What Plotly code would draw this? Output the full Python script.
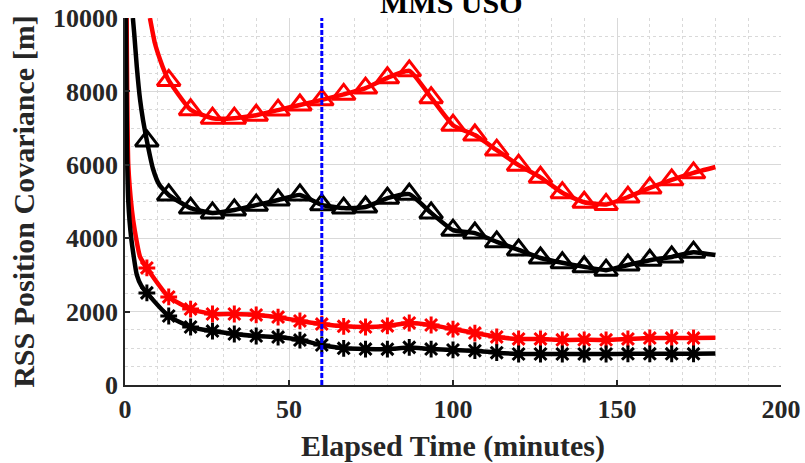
import plotly.graph_objects as go

# ---- data ----
marker_times = [6.67, 13.33, 20, 26.67, 33.33, 40, 46.67, 53.33, 60, 66.67, 73.33, 80, 86.67,
                93.33, 100, 106.67, 113.33, 120, 126.67, 133.33, 140, 146.67, 153.33, 160,
                166.67, 173.33]

red_tri_t = [7.6, 9.1, 10.7, 12.0] + marker_times[1:] + [180]
red_tri_v = [10000, 9320, 8860, 8550,
             8300, 7500, 7270, 7270, 7350, 7490, 7630, 7770, 7920, 8090, 8370, 8560,
             7830, 7080, 6810, 6400, 5990, 5660, 5240, 4980, 4920, 5120, 5370, 5590, 5780,
             5940]

black_tri_t = [2.4, 2.8, 3.6, 4.6, 5.5, 6.67, 8.5, 10.5] + marker_times[1:] + [180]
black_tri_v = [10000, 9590, 8670, 7770, 7220, 6650, 5900, 5450,
               5180, 4820, 4690, 4770, 4900, 5040, 5180, 4910, 4820, 4850, 5090, 5200,
               4690, 4220, 4140, 3900, 3680, 3460, 3330, 3220, 3130, 3270, 3400, 3490, 3620,
               3540]

red_star_t = [0.5, 1.0, 2.1, 3.0, 4.6] + marker_times + [180]
red_star_v = [10000, 6000, 4770, 4200, 3490,
              3190, 2400, 2070, 1935, 1935, 1910, 1850, 1745, 1660, 1600, 1580, 1610, 1690,
              1635, 1525, 1415, 1310, 1255, 1255, 1230, 1230, 1230, 1255, 1280, 1280, 1280,
              1290]

black_star_t = [0.3, 0.6, 1.0, 1.9, 3.6, 5.0] + marker_times + [180]
black_star_v = [10000, 6500, 5000, 4000, 3000, 2700,
                2510, 1880, 1580, 1470, 1390, 1335, 1305, 1225, 1090, 1000, 980, 975, 1025,
                980, 955, 935, 880, 845, 845, 845, 845, 845, 850, 850, 850, 850,
                855]

event_time = 60
x_ticks = [0, 50, 100, 150, 200]
x_tick_text = ["0", "50", "100", "150", "200"]
y_ticks = [0, 2000, 4000, 6000, 8000, 10000]
y_tick_text = ["0", "2000", "4000", "6000", "8000", "10000"]

FONT = "Liberation Serif"
fig = go.Figure()


def add_series(ts, vs, color, symbol, size):
    fig.add_trace(go.Scatter(x=ts, y=vs, mode="lines",
                             line=dict(color=color, width=4.5, shape="spline", smoothing=0.5),
                             hoverinfo="skip"))
    mt = [t for t in ts if t in marker_times]
    mv = [v for t, v in zip(ts, vs) if t in marker_times]
    fig.add_trace(go.Scatter(x=mt, y=mv, mode="markers",
                             marker=dict(symbol=symbol, size=size, color=color,
                                         line=dict(color=color, width=3))))


add_series(red_tri_t, red_tri_v, "#ff0000", "triangle-up-open", 20)
add_series(black_tri_t, black_tri_v, "#000000", "triangle-up-open", 20)
add_series(red_star_t, red_star_v, "#ff0000", "asterisk-open", 14)
add_series(black_star_t, black_star_v, "#000000", "asterisk-open", 14)

fig.add_trace(go.Scatter(x=[event_time, event_time], y=[y_ticks[0], y_ticks[-1]], mode="lines",
                         line=dict(color="#0000ff", width=3, dash="5px,2px")))

axis_common = dict(
    showline=True, linecolor="#262626", linewidth=1.5, mirror=False,
    ticks="inside", ticklen=5, tickwidth=1.5, tickcolor="#262626",
    showgrid=True, gridcolor="#d9d9d9", gridwidth=1, zeroline=False, automargin=False,
    tickfont=dict(family=FONT, size=26, color="#262626", weight="bold"),
)

fig.update_layout(
    width=805, height=463,
    margin=dict(l=125, r=24, t=18, b=78),
    plot_bgcolor="white", paper_bgcolor="white",
    showlegend=False,
    xaxis=dict(range=[0, 200], tickvals=x_ticks, ticktext=x_tick_text, **axis_common,
               minor=dict(dtick=10, showgrid=True, gridcolor="#d9d9d9", griddash="dot", gridwidth=1)),
    yaxis=dict(range=[0, 10000], tickvals=y_ticks, ticktext=y_tick_text, **axis_common,
               minor=dict(dtick=500, showgrid=True, gridcolor="#d9d9d9", griddash="dot", gridwidth=1)),
    annotations=[
        dict(text="MMS USO", xref="paper", yref="paper", x=0.497, y=1.041, showarrow=False,
             xanchor="center", yanchor="middle",
             font=dict(family=FONT, size=30, color="#000000", weight="bold")),
        dict(text="Elapsed Time (minutes)", xref="paper", yref="paper", x=0.5, y=-0.166,
             showarrow=False, xanchor="center", yanchor="middle",
             font=dict(family=FONT, size=30, color="#262626", weight="bold")),
        dict(text="RSS Position Covariance [m]", xref="paper", yref="paper", x=-0.155, y=0.5,
             showarrow=False, xanchor="center", yanchor="middle", textangle=-90,
             font=dict(family=FONT, size=30, color="#262626", weight="bold")),
    ],
)

fig.write_html("out.html")
